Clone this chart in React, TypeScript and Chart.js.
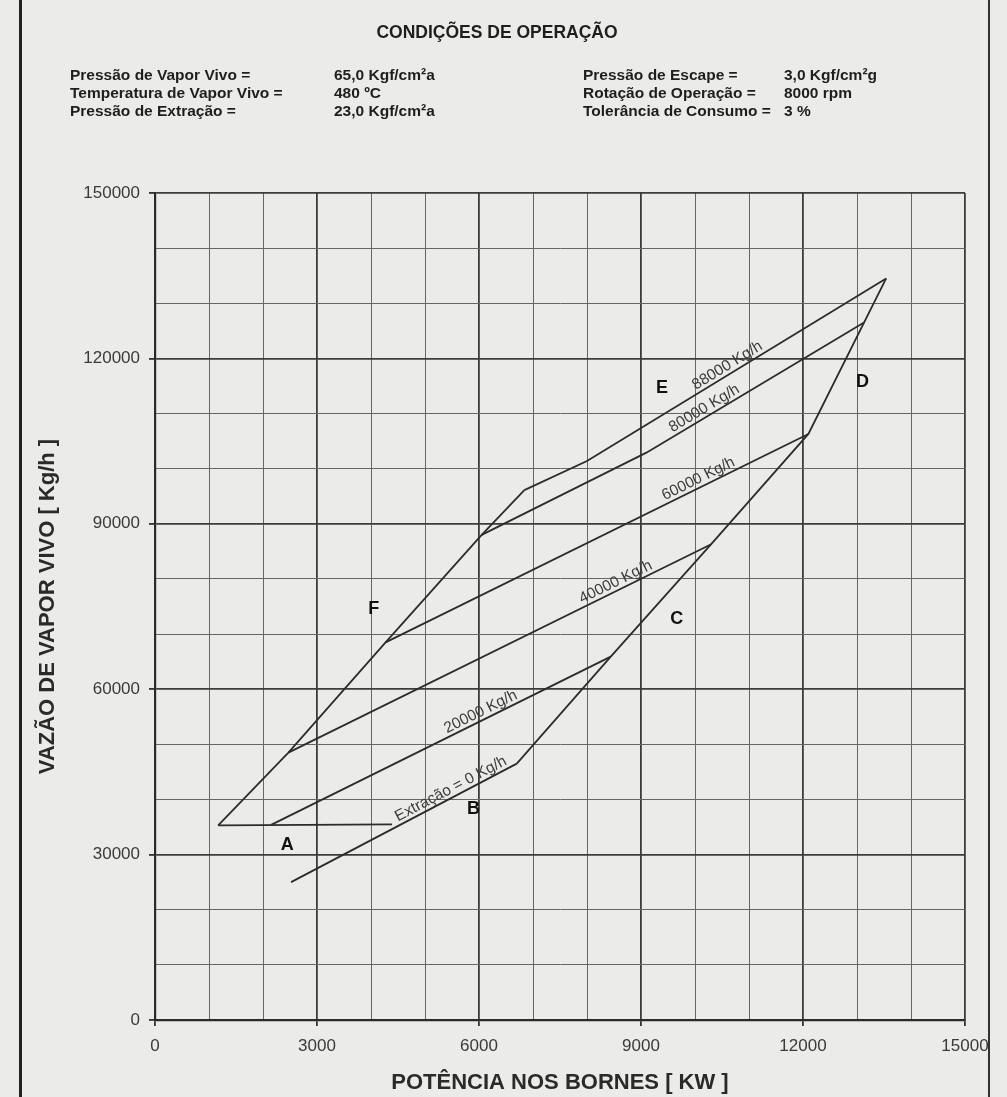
import React, { useEffect, useRef } from "react";
import { Chart, registerables } from "chart.js";

Chart.register(...registerables);

// ---------- DATA ----------
// Axis ranges / tick labels
const xMajorTicks = [0, 3000, 6000, 9000, 12000, 15000];
const yMajorTicks = [0, 30000, 60000, 90000, 120000, 150000];

// Curves (x = Potência [kW], y = Vazão de vapor vivo [kg/h])
const extracao0X = [2520, 6700];
const extracao0Y = [25000, 46500];

const limiteDireitoX = [6700, 8440, 10300, 12100, 13130, 13540];
const limiteDireitoY = [46500, 65900, 86300, 106300, 126500, 134500];

const limiteEsquerdoX = [1170, 2470, 4270, 6050, 6840];
const limiteEsquerdoY = [35300, 48500, 68500, 88000, 96100];

const limiteInferiorX = [1170, 4390];
const limiteInferiorY = [35300, 35500];

const ext20000X = [2150, 8440];
const ext20000Y = [35400, 65900];

const ext40000X = [2470, 10300];
const ext40000Y = [48500, 86300];

const ext60000X = [4270, 12100];
const ext60000Y = [68500, 106300];

const ext80000X = [6050, 9100, 13130];
const ext80000Y = [88000, 102900, 126500];

const ext88000X = [6840, 8000, 13540];
const ext88000Y = [96100, 101400, 134500];

// Curve labels: text, curve name, x position along the curve
const curveLabelTexts = [
  "Extração = 0 Kg/h",
  "20000 Kg/h",
  "40000 Kg/h",
  "60000 Kg/h",
  "80000 Kg/h",
  "88000 Kg/h",
];
const curveLabelCurves = ["ext0", "ext20", "ext40", "ext60", "ext80", "ext88"];
const curveLabelAtX = [5550, 6100, 8600, 10130, 10250, 10680];

// Region letters
const pointLetters = ["A", "B", "C", "D", "E", "F"];
const pointLettersX = [2450, 5900, 9660, 13100, 9390, 4050];
const pointLettersY = [31800, 38200, 72700, 115750, 114700, 74500];

// Operating conditions
const condLeftLabels = [
  "Pressão de Vapor Vivo =",
  "Temperatura de Vapor Vivo =",
  "Pressão de Extração =",
];
const condLeftValues = ["65,0 Kgf/cm²a", "480 ºC", "23,0 Kgf/cm²a"];
const condRightLabels = [
  "Pressão de Escape =",
  "Rotação de Operação =",
  "Tolerância de Consumo =",
];
const condRightValues = ["3,0 Kgf/cm²g", "8000 rpm", "3 %"];

// ---------- CHART ----------
const curves: Record<string, { x: number[]; y: number[] }> = {
  ext0: { x: extracao0X, y: extracao0Y },
  right: { x: limiteDireitoX, y: limiteDireitoY },
  left: { x: limiteEsquerdoX, y: limiteEsquerdoY },
  bottom: { x: limiteInferiorX, y: limiteInferiorY },
  ext20: { x: ext20000X, y: ext20000Y },
  ext40: { x: ext40000X, y: ext40000Y },
  ext60: { x: ext60000X, y: ext60000Y },
  ext80: { x: ext80000X, y: ext80000Y },
  ext88: { x: ext88000X, y: ext88000Y },
};

const FONT = "'Liberation Sans', Arial, Helvetica, sans-serif";
const LINE_COLOR = "#2c2c2c";

const annotationPlugin = {
  id: "annotations",
  afterDatasetsDraw(chart: any) {
    const { ctx } = chart;
    const xs = chart.scales.x;
    const ys = chart.scales.y;
    // curve labels
    curveLabelTexts.forEach((text, k) => {
      const c = curves[curveLabelCurves[k]];
      const at = curveLabelAtX[k];
      let i = 0;
      while (i < c.x.length - 2 && at > c.x[i + 1]) i++;
      const t = (at - c.x[i]) / (c.x[i + 1] - c.x[i]);
      const vy = c.y[i] + t * (c.y[i + 1] - c.y[i]);
      const px = xs.getPixelForValue(at);
      const py = ys.getPixelForValue(vy);
      const ang = Math.atan2(
        ys.getPixelForValue(c.y[i + 1]) - ys.getPixelForValue(c.y[i]),
        xs.getPixelForValue(c.x[i + 1]) - xs.getPixelForValue(c.x[i])
      );
      ctx.save();
      ctx.translate(px, py);
      ctx.rotate(ang);
      ctx.font = `15.5px ${FONT}`;
      ctx.fillStyle = "#3c3c3c";
      ctx.textAlign = "center";
      ctx.textBaseline = "alphabetic";
      ctx.fillText(text, 0, -4);
      ctx.restore();
    });
    // letters
    ctx.save();
    ctx.font = `bold 18px ${FONT}`;
    ctx.fillStyle = "#111111";
    ctx.textAlign = "center";
    ctx.textBaseline = "middle";
    pointLetters.forEach((L, k) => {
      ctx.fillText(
        L,
        xs.getPixelForValue(pointLettersX[k]),
        ys.getPixelForValue(pointLettersY[k])
      );
    });
    ctx.restore();
  },
};

function ChartCanvas() {
  const ref = useRef<HTMLCanvasElement | null>(null);
  useEffect(() => {
    if (!ref.current) return;
    const datasets = Object.keys(curves).map((k) => ({
      label: k,
      data: curves[k].x.map((xv, i) => ({ x: xv, y: curves[k].y[i] })),
      showLine: true,
      borderColor: LINE_COLOR,
      borderWidth: 1.8,
      pointRadius: 0,
      pointHoverRadius: 0,
      fill: false,
      tension: 0,
    }));
    const chart = new Chart(ref.current, {
      type: "scatter",
      data: { datasets },
      plugins: [annotationPlugin],
      options: {
        animation: false,
        responsive: false,
        events: [],
        layout: { padding: { left: 0, right: 42, top: 193, bottom: 0 } },
        plugins: { legend: { display: false }, tooltip: { enabled: false } },
        scales: {
          x: {
            type: "linear",
            min: 0,
            max: 15000,
            afterFit: (s: any) => {
              s.height = 77;
            },
            ticks: {
              stepSize: 1000,
              autoSkip: false,
              maxRotation: 0,
              padding: 10,
              color: "#3a3a3a",
              font: { family: FONT, size: 17 },
              callback: (v: any) =>
                xMajorTicks.includes(Number(v)) ? String(v) : "",
            },
            grid: {
              color: (c: any) =>
                xMajorTicks.includes(c.tick?.value) ? "#3c3c3c" : "#666666",
              lineWidth: (c: any) =>
                xMajorTicks.includes(c.tick?.value) ? 1.8 : 1,
              tickLength: 6,
              tickColor: (c: any) =>
                xMajorTicks.includes(c.tick?.value) ? "#333" : "rgba(0,0,0,0)",
            },
            border: { color: "#2a2a2a", width: 2.2 },
            title: {
              display: true,
              text: "POTÊNCIA NOS BORNES [ KW ]",
              color: "#2a2a2a",
              font: { family: FONT, size: 22, weight: "bold" },
              padding: { top: 0, bottom: 1 },
            },
          },
          y: {
            type: "linear",
            min: 0,
            max: 150000,
            afterFit: (s: any) => {
              s.width = 155;
            },
            ticks: {
              stepSize: 10000,
              autoSkip: false,
              padding: 9,
              color: "#3a3a3a",
              font: { family: FONT, size: 17 },
              callback: (v: any) =>
                yMajorTicks.includes(Number(v)) ? String(v) : "",
            },
            grid: {
              color: (c: any) =>
                yMajorTicks.includes(c.tick?.value) ? "#3c3c3c" : "#666666",
              lineWidth: (c: any) =>
                yMajorTicks.includes(c.tick?.value) ? 1.8 : 1,
              tickLength: 6,
              tickColor: (c: any) =>
                yMajorTicks.includes(c.tick?.value) ? "#333" : "rgba(0,0,0,0)",
            },
            border: { color: "#2a2a2a", width: 2.2 },
            title: {
              display: true,
              text: "VAZÃO DE VAPOR VIVO [ Kg/h ]",
              color: "#2a2a2a",
              font: { family: FONT, size: 22, weight: "bold" },
              padding: { top: 35, bottom: 0 },
            },
          },
        },
      },
    } as any);
    return () => chart.destroy();
  }, []);
  return (
    <canvas
      ref={ref}
      width={1007}
      height={1097}
      style={{ position: "absolute", left: 0, top: 0, width: 1007, height: 1097 }}
    />
  );
}

export default function App() {
  const rowTop = 66;
  const rowH = 18;
  const txt: React.CSSProperties = {
    position: "absolute",
    fontFamily: FONT,
    fontWeight: "bold",
    fontSize: 15.5,
    lineHeight: `${rowH}px`,
    color: "#1e1e1e",
    whiteSpace: "nowrap",
  };
  return (
    <div
      style={{
        position: "absolute",
        left: 0,
        top: 0,
        width: 1007,
        height: 1097,
        background: "#ebebe9",
        overflow: "hidden",
      }}
    >
      <ChartCanvas />
      <div
        style={{
          ...txt,
          left: 0,
          width: 994,
          textAlign: "center",
          top: 21,
          fontSize: 17.5,
          lineHeight: "22px",
        }}
      >
        CONDIÇÕES DE OPERAÇÃO
      </div>
      {condLeftLabels.map((t, i) => (
        <div key={"ll" + i} style={{ ...txt, left: 70, top: rowTop + i * rowH }}>
          {t}
        </div>
      ))}
      {condLeftValues.map((t, i) => (
        <div key={"lv" + i} style={{ ...txt, left: 334, top: rowTop + i * rowH }}>
          {t}
        </div>
      ))}
      {condRightLabels.map((t, i) => (
        <div key={"rl" + i} style={{ ...txt, left: 583, top: rowTop + i * rowH }}>
          {t}
        </div>
      ))}
      {condRightValues.map((t, i) => (
        <div key={"rv" + i} style={{ ...txt, left: 784, top: rowTop + i * rowH }}>
          {t}
        </div>
      ))}
      <div
        style={{
          position: "absolute",
          left: 19,
          top: 0,
          width: 3,
          height: 1097,
          background: "#222",
        }}
      />
      <div
        style={{
          position: "absolute",
          left: 988,
          top: 0,
          width: 2,
          height: 1097,
          background: "#333",
        }}
      />
    </div>
  );
}
